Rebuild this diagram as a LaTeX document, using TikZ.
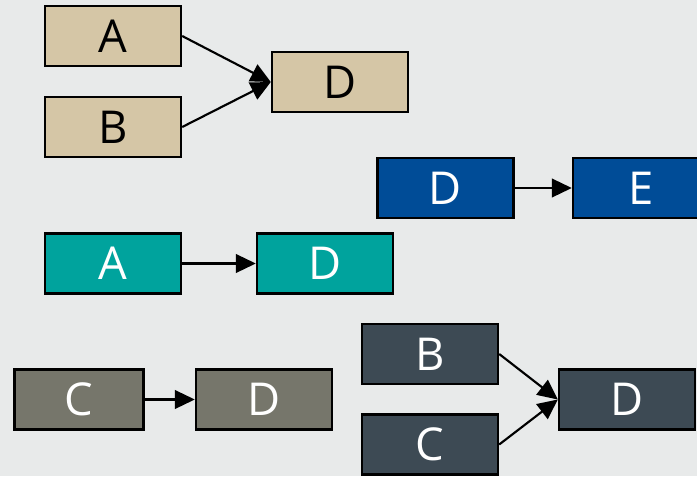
\documentclass[tikz,border=0pt]{standalone}
\usepackage{fontspec}
\setmainfont{Open Sans}
\usetikzlibrary{arrows.meta}
\definecolor{bgc}{HTML}{E8EAEA}
\definecolor{tan}{HTML}{D5C6A6}
\definecolor{bluec}{HTML}{004C97}
\definecolor{tealc}{HTML}{00A39D}
\definecolor{grayc}{HTML}{76766B}
\definecolor{darkc}{HTML}{3D4A54}
\tikzset{
  box/.style={draw=black, line width=1.8pt, minimum width=102pt, minimum height=45pt, inner sep=0pt, font=\fontsize{34}{36}\selectfont},
  tanbox/.style={box, fill=tan, text=black},
  bluebox/.style={box, fill=bluec, text=white},
  tealbox/.style={box, fill=tealc, text=white},
  graybox/.style={box, fill=grayc, text=white},
  darkbox/.style={box, fill=darkc, text=white},
  conn/.style={draw=black, line width=1.6pt, -{Triangle[length=15pt,width=14pt]}}
}
\begin{document}
\begin{tikzpicture}[x=0.75pt, y=-0.75pt]
\fill[bgc] (0,0) rectangle (697,476);
\useasboundingbox (0,0) rectangle (697,476);
% tan group
\node[tanbox] (tA) at (113,36) {A};
\node[tanbox] (tB) at (113,127) {B};
\node[tanbox] (tD) at (340,82) {D};
\draw[conn] (tA.east) -- (tD.west);
\draw[conn] (tB.east) -- (tD.west);
% blue group
\node[bluebox] (bD) at (445.5,188) {D};
\node[bluebox] (bE) at (641,188) {E};
\draw[conn] (bD.east) -- (bE.west);
% teal group
\node[tealbox] (cA) at (113,263.5) {A};
\node[tealbox] (cD) at (325,263.5) {D};
\draw[conn] (cA.east) -- (cD.west);
% gray group
\node[graybox, minimum width=96.75pt] (gC) at (79,399.5) {C};
\node[graybox] (gD) at (264,399.5) {D};
\draw[conn] (gC.east) -- (gD.west);
% dark group
\node[darkbox] (dB) at (430,354) {B};
\node[darkbox] (dC) at (430,444.5) {C};
\node[darkbox] (dD) at (627,399.5) {D};
\draw[conn] (dB.east) -- (dD.west);
\draw[conn] (dC.east) -- (dD.west);
\end{tikzpicture}
\end{document}
